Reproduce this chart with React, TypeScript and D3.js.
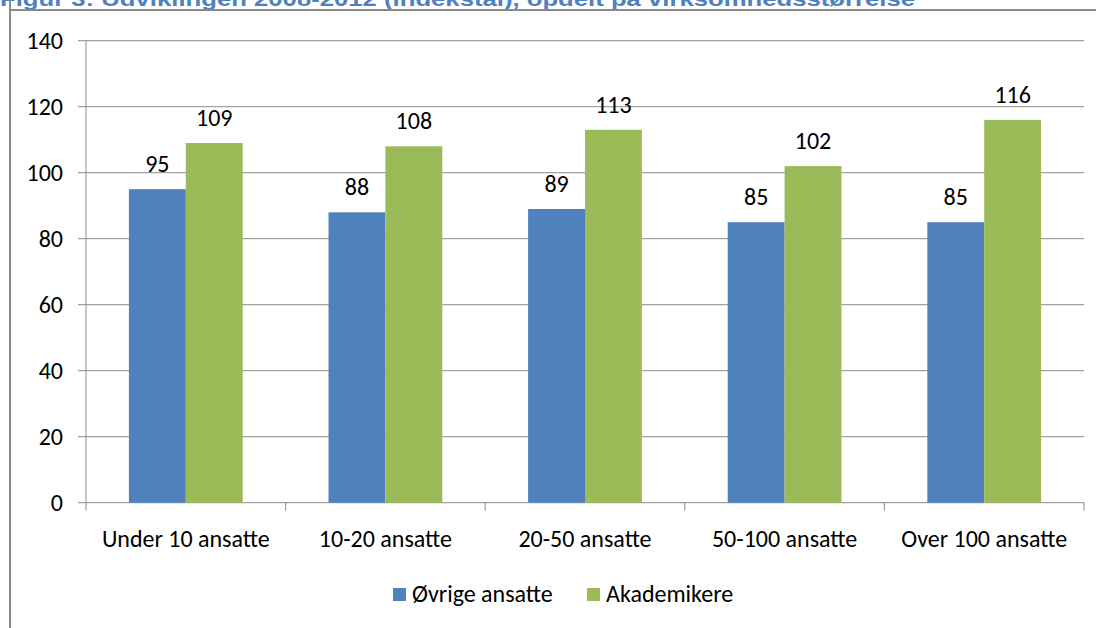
import React from "react";
import * as d3 from "d3";

const categories = ["Under 10 ansatte", "10-20 ansatte", "20-50 ansatte", "50-100 ansatte", "Over 100 ansatte"];
const seriesNames = ["Øvrige ansatte", "Akademikere"];
const ovrige = [95, 88, 89, 85, 85];
const akademikere = [109, 108, 113, 102, 116];
const yTicks = [0, 20, 40, 60, 80, 100, 120, 140];
const colors = ["#4f81bd", "#9bbb59"];
const title = "Figur 3: Udviklingen 2008-2012 (indekstal), opdelt på virksomhedsstørrelse";

export default function App() {
  const W = 1096, H = 628;
  const left = 86, right = 1084, top = 40.7, bottom = 502.7;
  const font = "Carlito, Calibri, 'Open Sans', 'Liberation Sans', sans-serif";
  const fs = 24;
  const x = d3.scaleBand<string>().domain(categories).range([left, right]).paddingInner(0.43).paddingOuter(0.215);
  const x1 = d3.scaleBand<string>().domain(seriesNames).range([0, x.bandwidth()]);
  const y = d3.scaleLinear().domain([0, 140]).range([bottom, top]);
  const step = (right - left) / categories.length;
  const series = [ovrige, akademikere];

  return (
    <svg width={W} height={H} style={{ position: "absolute", left: 0, top: 0, background: "#fff" }}>
      <text x={0} y={6} fontFamily="'Liberation Sans', Arial, sans-serif" fontWeight="bold" fontSize={20} fill="#4f81bd" textLength={915} lengthAdjust="spacingAndGlyphs">{title}</text>
      <line x1={10} y1={0} x2={10} y2={H} stroke="#8a8a8a" strokeWidth={2} />
      <line x1={10} y1={10} x2={W} y2={10} stroke="#8a8a8a" strokeWidth={2} />
      {yTicks.map((t) => (
        <g key={t}>
          <line x1={78} x2={right} y1={y(t)} y2={y(t)} stroke="#8c8c8c" strokeWidth={1} />
          <text x={63} y={y(t)} dy="0.35em" textAnchor="end" fontFamily={font} fontSize={fs} fill="#000">{t}</text>
        </g>
      ))}
      <line x1={left} x2={left} y1={top} y2={bottom} stroke="#8c8c8c" strokeWidth={1} />
      {d3.range(categories.length + 1).map((i) => (
        <line key={i} x1={left + i * step} x2={left + i * step} y1={bottom} y2={bottom + 8} stroke="#8c8c8c" strokeWidth={1} />
      ))}
      {categories.map((c, i) => (
        <g key={c}>
          {series.map((s, j) => {
            const bx = (x(c) as number) + (x1(seriesNames[j]) as number);
            return (
              <g key={j}>
                <rect x={bx} y={y(s[i])} width={x1.bandwidth()} height={bottom - y(s[i])} fill={colors[j]} />
                <text x={bx + x1.bandwidth() / 2} y={y(s[i]) - 17} textAnchor="middle" fontFamily={font} fontSize={fs} fill="#000">{s[i]}</text>
              </g>
            );
          })}
          <text x={(x(c) as number) + x.bandwidth() / 2} y={547} textAnchor="middle" fontFamily={font} fontSize={fs} fill="#000">{c}</text>
        </g>
      ))}
      {seriesNames.map((n, j) => {
        const lx = [393, 587][j];
        return (
          <g key={n}>
            <rect x={lx} y={588} width={13} height={13} fill={colors[j]} />
            <text x={lx + 19} y={602} fontFamily={font} fontSize={fs} fill="#000">{n}</text>
          </g>
        );
      })}
    </svg>
  );
}
